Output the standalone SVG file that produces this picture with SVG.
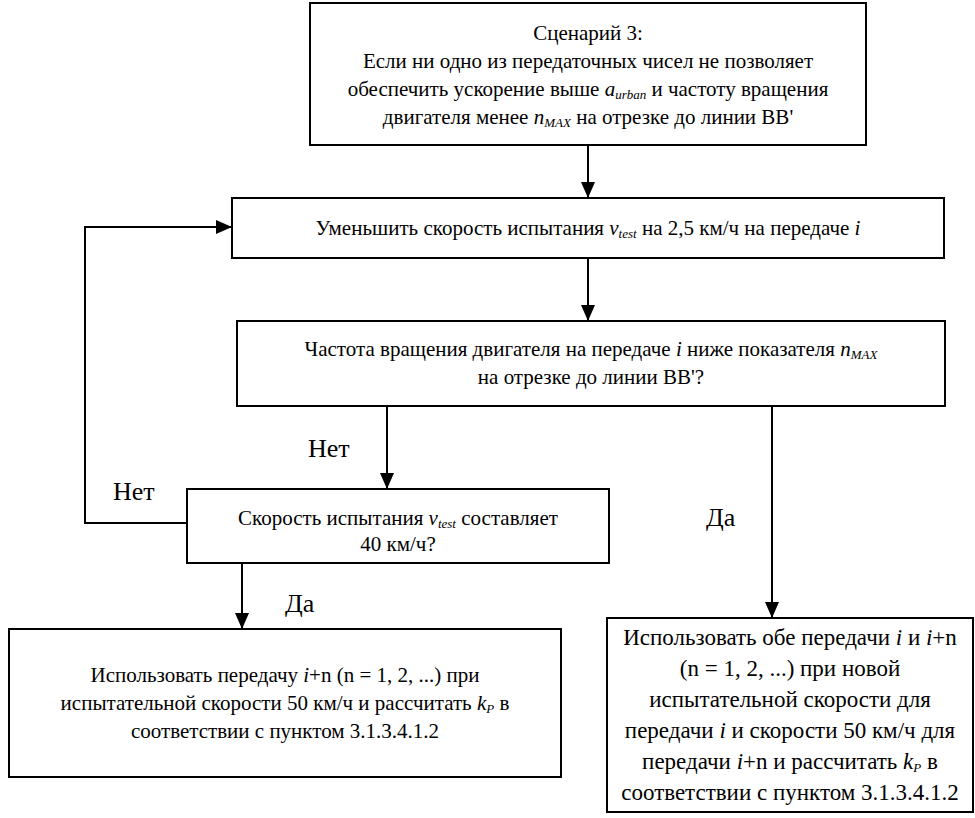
<svg xmlns="http://www.w3.org/2000/svg" width="975" height="818" viewBox="0 0 975 818">
<defs>
<marker id="ah" viewBox="0 0 16 14" refX="16" refY="7" markerWidth="16" markerHeight="14" markerUnits="userSpaceOnUse" orient="auto">
<path d="M0,0 L16,7 L0,14 Z" fill="#000"/>
</marker>
<style>
.box{fill:#fff;stroke:#000;stroke-width:2}
text{font-family:"Liberation Serif","Times New Roman",serif;fill:#000}
.t{font-size:21px;text-anchor:middle}
.big{font-size:23px}
.lbl{font-size:26px}
.i{font-style:italic}
.sub{font-style:italic;font-size:13px}
.c{fill:none;stroke:#000;stroke-width:2}
</style>
</defs>
<rect width="975" height="818" fill="#fff"/>
<g id="connectors">
<line class="c" x1="588" y1="145" x2="588" y2="198" marker-end="url(#ah)"/>
<line class="c" x1="588" y1="258" x2="588" y2="321" marker-end="url(#ah)"/>
<line class="c" x1="772" y1="406" x2="772" y2="618" marker-end="url(#ah)"/>
<line class="c" x1="387" y1="406" x2="387" y2="489" marker-end="url(#ah)"/>
<polyline class="c" points="187,523 85,523 85,227 232,227" marker-end="url(#ah)"/>
<line class="c" x1="242" y1="563" x2="242" y2="629" marker-end="url(#ah)"/>
<text class="lbl" x="308" y="457">Нет</text>
<text class="lbl" x="113" y="500">Нет</text>
<text class="lbl" x="285" y="612">Да</text>
<text class="lbl" x="706" y="526">Да</text>
</g>
<g id="n1">
<rect class="box" x="310" y="3" width="556" height="142"/>
<text class="t" x="588" y="40">Сценарий 3:</text>
<text class="t" x="588" y="68">Если ни одно из передаточных чисел не позволяет</text>
<text class="t" x="588" y="96">обеспечить ускорение выше <tspan class="i">a</tspan><tspan class="sub" dy="3">urban</tspan><tspan dy="-3"> и частоту вращения</tspan></text>
<text class="t" x="588" y="124">двигателя менее <tspan class="i">n</tspan><tspan class="sub" dy="3">MAX</tspan><tspan dy="-3"> на отрезке до линии ВВ'</tspan></text>
</g>
<g id="n2">
<rect class="box" x="232" y="198" width="712" height="60"/>
<text class="t" x="588" y="235">Уменьшить скорость испытания <tspan class="i">v</tspan><tspan class="sub" dy="3">test</tspan><tspan dy="-3"> на 2,5 км/ч на передаче </tspan><tspan class="i">i</tspan></text>
</g>
<g id="n3">
<rect class="box" x="237" y="321" width="708" height="85"/>
<text class="t" x="591" y="356">Частота вращения двигателя на передаче <tspan class="i">i</tspan> ниже показателя <tspan class="i">n</tspan><tspan class="sub" dy="3">MAX</tspan></text>
<text class="t" x="591" y="384">на отрезке до линии ВВ'?</text>
</g>
<g id="n4">
<rect class="box" x="187" y="489" width="422" height="74"/>
<text class="t" x="398" y="525">Скорость испытания <tspan class="i">v</tspan><tspan class="sub" dy="3">test</tspan><tspan dy="-3"> составляет</tspan></text>
<text class="t" x="398" y="551">40 км/ч?</text>
</g>
<g id="n5">
<rect class="box" x="9" y="629" width="552" height="148"/>
<text class="t" x="285" y="682">Использовать передачу <tspan class="i">i</tspan>+n (n = 1, 2, ...) при</text>
<text class="t" x="285" y="710">испытательной скорости 50 км/ч и рассчитать <tspan class="i">k</tspan><tspan class="sub" dy="3">P</tspan><tspan dy="-3"> в</tspan></text>
<text class="t" x="285" y="738">соответствии с пунктом 3.1.3.4.1.2</text>
</g>
<g id="n6">
<rect class="box" x="607" y="618" width="366" height="194"/>
<text class="t big" x="790" y="645">Использовать обе передачи <tspan class="i">i</tspan> и <tspan class="i">i</tspan>+n</text>
<text class="t big" x="790" y="676">(n = 1, 2, ...) при новой</text>
<text class="t big" x="790" y="707">испытательной скорости для</text>
<text class="t big" x="790" y="738">передачи <tspan class="i">i</tspan> и скорости 50 км/ч для</text>
<text class="t big" x="790" y="769">передачи <tspan class="i">i</tspan>+n и рассчитать <tspan class="i">k</tspan><tspan class="sub" dy="3">P</tspan><tspan dy="-3"> в</tspan></text>
<text class="t big" x="790" y="800">соответствии с пунктом 3.1.3.4.1.2</text>
</g>
</svg>
